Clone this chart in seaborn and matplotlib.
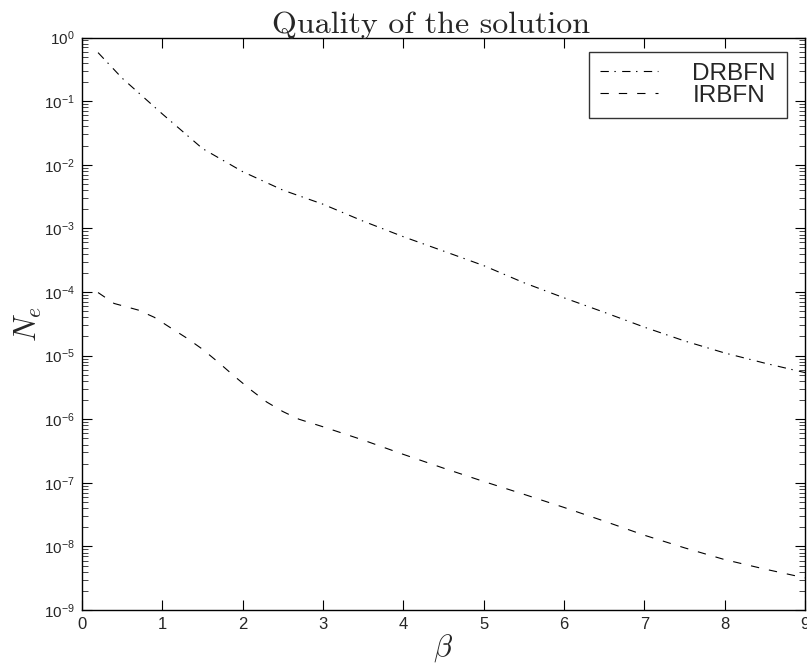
import numpy as np
import pandas as pd
import matplotlib
matplotlib.use("Agg")
import matplotlib.pyplot as plt
import seaborn as sns
from matplotlib.ticker import LogLocator, LogFormatterSciNotation, NullFormatter

# ---- data ----
beta_dr = [0.2, 0.5, 1.0, 1.5, 2.0, 2.5, 3.0, 3.5, 4.0, 4.5, 5.0, 5.5, 6.0, 6.5, 7.0, 7.5, 8.0, 8.5, 9.0]
ne_dr = [5.8e-1, 2.3e-1, 6.3e-2, 1.8e-2, 7.8e-3, 4.0e-3, 2.4e-3, 1.3e-3, 7.4e-4, 4.4e-4,
         2.6e-4, 1.4e-4, 8.1e-5, 4.8e-5, 2.8e-5, 1.7e-5, 1.1e-5, 7.6e-6, 5.4e-6]
beta_ir = [0.2, 0.4, 0.7, 0.9, 1.1, 1.3, 1.5, 1.7, 1.9, 2.1, 2.3, 2.5, 2.7, 3.0, 3.5, 4.0,
           4.5, 5.0, 5.5, 6.0, 6.5, 7.0, 7.5, 8.0, 8.5, 9.0]
ne_ir = [9.8e-5, 6.6e-5, 5.2e-5, 4.0e-5, 2.75e-5, 1.9e-5, 1.26e-5, 7.8e-6, 4.7e-6, 2.9e-6,
         1.86e-6, 1.32e-6, 1.0e-6, 7.6e-7, 4.7e-7, 2.8e-7, 1.7e-7, 1.05e-7, 6.6e-8, 4.1e-8,
         2.5e-8, 1.5e-8, 9.5e-9, 6.2e-9, 4.4e-9, 3.2e-9]
series_names = ["DRBFN", "IRBFN"]
x_ticks = [0, 1, 2, 3, 4, 5, 6, 7, 8, 9]
title_text = "Quality of the solution"

df = pd.DataFrame({
    "beta": beta_dr + beta_ir,
    "Ne": ne_dr + ne_ir,
    "method": [series_names[0]] * len(beta_dr) + [series_names[1]] * len(beta_ir),
})

sns.set_style("ticks")
plt.rcParams["font.family"] = ["Liberation Sans", "DejaVu Sans"]
plt.rcParams["mathtext.fontset"] = "custom"
plt.rcParams["mathtext.rm"] = "Liberation Sans"
plt.rcParams["mathtext.it"] = "Liberation Sans:italic"
plt.rcParams["mathtext.default"] = "regular"
plt.rcParams["lines.scale_dashes"] = False

fig = plt.figure(figsize=(8.07, 6.71), dpi=100)
ax = fig.add_axes([0.1016, 0.0909, 0.8959, 0.8531])

sns.lineplot(data=df, x="beta", y="Ne", hue="method", style="method",
             palette={"DRBFN": "black", "IRBFN": "black"},
             dashes={"DRBFN": (6, 4, 1, 4.6), "IRBFN": (6, 7.2)},
             linewidth=0.8, ax=ax, legend=False)

ax.set_yscale("log")
ax.set_xlim(0, 9)
ax.set_ylim(1e-9, 1e0)
ax.set_xticks(x_ticks)
ax.set_xticklabels([str(t) for t in x_ticks])
ax.yaxis.set_major_locator(LogLocator(base=10, numticks=20))
ax.yaxis.set_minor_locator(LogLocator(base=10, subs=np.arange(2, 10), numticks=20))
ax.yaxis.set_major_formatter(LogFormatterSciNotation())
ax.yaxis.set_minor_formatter(NullFormatter())

ax.tick_params(axis="both", which="major", direction="in", length=7, width=0.8,
               top=True, right=True, color="black")
ax.tick_params(axis="x", which="major", labelsize=12, pad=5)
ax.tick_params(axis="y", which="major", labelsize=11, pad=5)
ax.tick_params(axis="y", which="minor", direction="in", length=4, width=0.6,
               right=True, left=True)
ax.tick_params(axis="x", which="minor", bottom=False, top=False)
for s in ax.spines.values():
    s.set_visible(True)
    s.set_linewidth(1.0)
    s.set_color("black")

ax.set_xlabel(r"$\mathit{\beta}$", fontsize=22, math_fontfamily="cm", labelpad=0)
ax.set_ylabel(r"$\mathit{N_e}$", fontsize=22, math_fontfamily="cm", labelpad=0)
ax.set_title(title_text, fontsize=23, family="cmr10", pad=3, x=0.483)

lines = ax.get_lines()
leg = ax.legend(lines[:2], series_names, loc="upper right",
                bbox_to_anchor=(0.975, 0.975), fontsize=17.5, frameon=True,
                fancybox=False, edgecolor="black", handlelength=2.4,
                handletextpad=1.4, borderpad=0.45, labelspacing=0.0,
                borderaxespad=0.0)
leg.get_frame().set_linewidth(1.0)

fig.savefig("out.png", dpi=100, facecolor="white")
